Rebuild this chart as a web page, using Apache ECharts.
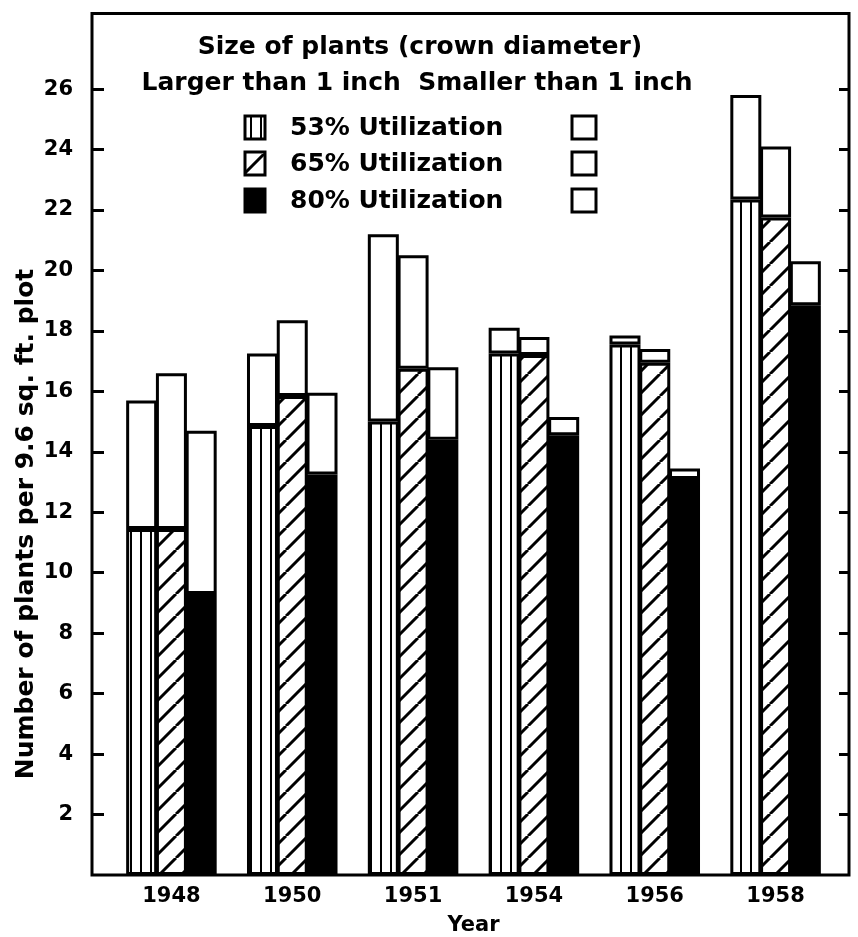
<!DOCTYPE html>
<html><head><meta charset="utf-8">
<script src="https://cdn.jsdelivr.net/npm/echarts@6/dist/echarts.min.js"></script>
<style>html,body{margin:0;padding:0;background:#fff}#c{width:858px;height:937px}</style>
</head><body><div id="c"></div>
<script>
// ---- data ----
const years = ['1948', '1950', '1951', '1954', '1956', '1958'];
// plants larger than 1 inch (bottom part of each bar)
const large53 = [11.45, 14.85, 15.0, 17.25, 17.55, 22.35];
const large65 = [11.45, 15.85, 16.75, 17.2, 16.95, 21.75];
const large80 = [9.3, 13.25, 14.4, 14.55, 13.1, 18.85];
// plants smaller than 1 inch (upper white part of each bar)
const small53 = [4.25, 2.4, 6.2, 0.85, 0.3, 3.45];
const small65 = [5.15, 2.5, 3.75, 0.6, 0.45, 2.35];
const small80 = [5.4, 2.7, 2.4, 0.6, 0.35, 1.45];
const yTicks = [2, 4, 6, 8, 10, 12, 14, 16, 18, 20, 22, 24, 26];
const utilLabels = ['53% Utilization', '65% Utilization', '80% Utilization'];
const titleText = 'Size of plants (crown diameter)';
const subText = 'Larger than 1 inch  Smaller than 1 inch';
const yName = 'Number of plants per 9.6 sq. ft. plot';
const xName = 'Year';

// ---- patterns ----
function vPattern() {
  const c = document.createElement('canvas'); c.width = 10; c.height = 10;
  const g = c.getContext('2d');
  g.fillStyle = '#fff'; g.fillRect(0, 0, 10, 10);
  g.fillStyle = '#000'; g.fillRect(0, 0, 2, 10);
  return c;
}
function dPattern() {
  const s = 22;
  const c = document.createElement('canvas'); c.width = s; c.height = s;
  const g = c.getContext('2d');
  g.fillStyle = '#fff'; g.fillRect(0, 0, s, s);
  g.strokeStyle = '#000'; g.lineWidth = 3;
  g.beginPath();
  for (let k = -1; k <= 1; k++) { g.moveTo(k * s, s); g.lineTo(k * s + s, 0); }
  g.stroke();
  return c;
}
const pat53 = { image: vPattern(), repeat: 'repeat' };
const pat65 = { image: dPattern(), repeat: 'repeat' };
const fills = [pat53, pat65, '#000'];

const FONT = '"DejaVu Sans", sans-serif';
const border = { borderColor: '#000', borderWidth: 3 };

function mk(name, data, stack, fill) {
  return {
    name, type: 'bar', stack, data, xAxisIndex: 1, yAxisIndex: 2,
    barWidth: 31, barGap: '-4%',
    itemStyle: Object.assign({ color: fill }, border),
    emphasis: { disabled: true }, animation: false
  };
}

const chart = echarts.init(document.getElementById('c'), null, { renderer: 'canvas' });

// legend graphics
const legend = [];
legend.push({ type: 'text', x: 420, y: 47, style: { text: titleText, font: 'bold 25px ' + FONT, fill: '#000', align: 'center', verticalAlign: 'middle' } });
legend.push({ type: 'text', x: 417, y: 83, style: { text: subText, font: 'bold 25px ' + FONT, fill: '#000', align: 'center', verticalAlign: 'middle' } });
const rowsY = [116, 152, 189];
rowsY.forEach((y, i) => {
  legend.push({ type: 'rect', shape: { x: 245, y: y, width: 20, height: 23 }, style: { fill: fills[i], stroke: '#000', lineWidth: 3 } });
  legend.push({ type: 'text', x: 290, y: y + 12, style: { text: utilLabels[i], font: 'bold 25px ' + FONT, fill: '#000', verticalAlign: 'middle' } });
  legend.push({ type: 'rect', shape: { x: 572, y: y, width: 24, height: 23 }, style: { fill: '#fff', stroke: '#000', lineWidth: 3 } });
});

chart.setOption({
  backgroundColor: '#fff',
  animation: false,
  grid: [
    { left: 92, right: 9, top: 13.5, bottom: 62, show: true, borderColor: '#000', borderWidth: 3, backgroundColor: 'transparent', containLabel: false, outerBoundsMode: 'none' },
    { left: 111, right: 22, top: 13.5, bottom: 62, containLabel: false, outerBoundsMode: 'none' }
  ],
  xAxis: [
    { gridIndex: 0, type: 'value', show: false, min: 0, max: 1 },
    {
      gridIndex: 1, type: 'category', data: years,
      axisLine: { show: false }, axisTick: { show: false },
      axisLabel: { color: '#000', fontFamily: FONT, fontWeight: 'bold', fontSize: 21, margin: 11 },
      name: xName, nameLocation: 'middle', nameGap: 40,
      nameTextStyle: { color: '#000', fontFamily: FONT, fontWeight: 'bold', fontSize: 21 }
    }
  ],
  yAxis: [
    {
      gridIndex: 0, type: 'value', min: 0, max: 28.5, position: 'left',
      splitLine: { show: false },
      axisLine: { show: false },
      axisTick: { show: true, inside: true, length: 12, lineStyle: { color: '#000', width: 3 }, customValues: yTicks },
      axisLabel: { color: '#000', fontFamily: FONT, fontWeight: 'bold', fontSize: 21, margin: 19, customValues: yTicks }
    },
    {
      gridIndex: 0, type: 'value', min: 0, max: 28.5, position: 'right',
      splitLine: { show: false },
      axisLine: { show: false },
      axisTick: { show: true, inside: true, length: 10, lineStyle: { color: '#000', width: 3 }, customValues: yTicks },
      axisLabel: { show: false }
    },
    { gridIndex: 1, type: 'value', min: 0, max: 28.5, show: false }
  ],
  graphic: legend.concat([
    { type: 'text', x: 26, y: 524, rotation: Math.PI / 2, style: { text: yName, font: 'bold 25px ' + FONT, fill: '#000', align: 'center', verticalAlign: 'middle' } }
  ]),
  series: [
    mk('53% large', large53, 's53', pat53),
    mk('53% small', small53, 's53', '#fff'),
    mk('65% large', large65, 's65', pat65),
    mk('65% small', small65, 's65', '#fff'),
    mk('80% large', large80, 's80', '#000'),
    mk('80% small', small80, 's80', '#fff')
  ]
});
</script>
</body></html>
